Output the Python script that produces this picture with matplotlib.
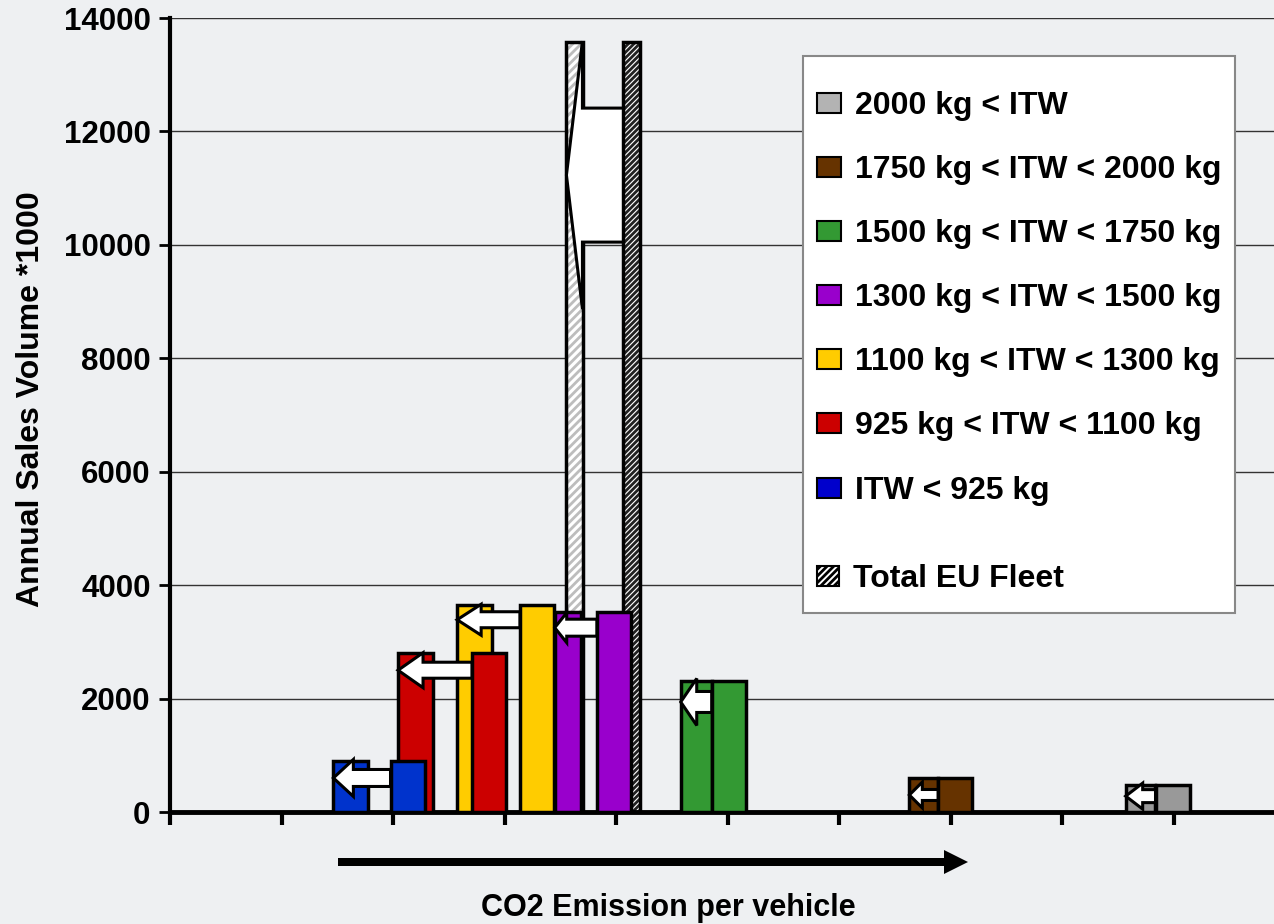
import numpy as np
import matplotlib
matplotlib.use("Agg")
import matplotlib.pyplot as plt
from matplotlib.patches import Polygon, Rectangle

plt.rcParams['font.family'] = ['Liberation Sans', 'DejaVu Sans']
plt.rcParams['font.weight'] = 'bold'
plt.rcParams['hatch.linewidth'] = 2.0

# weight classes, lightest first
classes = ['ITW < 925 kg', '925 kg < ITW < 1100 kg', '1100 kg < ITW < 1300 kg',
           '1300 kg < ITW < 1500 kg', '1500 kg < ITW < 1750 kg',
           '1750 kg < ITW < 2000 kg', '2000 kg < ITW']
colors = ['#0033cc', '#cc0000', '#ffcc00', '#9900cc', '#339933', '#663300', '#999999']
legend_colors = ['#0000cc', '#cc0000', '#ffcc00', '#9900cc', '#339933', '#663300', '#b3b3b3']
sales = [900, 2800, 3650, 3525, 2310, 600, 475]          # annual sales *1000
co2_now = [2.13, 2.86, 3.29, 3.98, 5.01, 7.04, 8.99]     # current emission position
co2_new = [1.62, 2.20, 2.73, 3.57, 4.72, 6.76, 8.70]     # shifted emission position

fleet_sales = 13570
fleet_now = 4.14
fleet_new = 3.63

# bar widths and arrow styling
w_now = 0.305
w_new = [0.31, 0.31, 0.31, 0.24, 0.28, 0.26, 0.26]
w_fleet = 0.15
arrow_y = [600, 2500, 3390, 3250, 1940, 300, 280]
arrow_px = [(17, 37, 20), (16, 35, 25), (16, 31, 24), (17, 30, 12),
            (21, 47, 16), (11, 26, 13), (13, 26, 17)]   # shaft, head, head length
fleet_arrow_y = 11230
fleet_arrow_px = (134, 268, 16)

W, H = 1274, 924
bg = '#eef0f2'
fig = plt.figure(figsize=(W / 100, H / 100), dpi=100, facecolor=bg)
ax = fig.add_axes([170 / W, 1 - 812 / H, 1 - 170 / W, (812 - 18) / H])
ax.set_facecolor('none')
ax.set_xlim(0, 9.9)
ax.set_ylim(0, 14000)

# px -> data scale
sx = 9.9 / (W - 170)
sy = 14000 / (812 - 18)


def fig_xy(px, py):
    return px / W, 1 - py / H


def block_arrow(x_tail, x_tip, y, size):
    shaft, head, hlen = size
    sh, hh, hl = shaft * sy / 2, head * sy / 2, hlen * sx
    verts = [(x_tail, y + sh), (x_tip + hl, y + sh), (x_tip + hl, y + hh), (x_tip, y),
             (x_tip + hl, y - hh), (x_tip + hl, y - sh), (x_tail, y - sh)]
    ax.add_patch(Polygon(verts, closed=True, facecolor='white', edgecolor='black',
                         lw=2.2, joinstyle='miter', zorder=6))


def hatched_bar(x, h, w, hatch, hatch_color):
    ax.bar(x, h, w, color='white', edgecolor=hatch_color, hatch=hatch, lw=0, zorder=2)
    ax.bar(x, h, w, fill=False, edgecolor='black', lw=2.5, zorder=2.1)


# total fleet, before and after
hatched_bar(fleet_new, fleet_sales, w_fleet, '////', '#bdbdbd')
hatched_bar(fleet_now, fleet_sales, w_fleet, '//////', '#222222')

ax.bar(co2_new, sales, w_new, color=colors, edgecolor='black', lw=2.5, zorder=3)
ax.bar(co2_now, sales, w_now, color=colors, edgecolor='black', lw=2.5, zorder=4)

for i in range(len(classes)):
    block_arrow(co2_now[i] - w_now / 2, co2_new[i] - w_new[i] / 2, arrow_y[i], arrow_px[i])
block_arrow(fleet_now - w_fleet / 2, fleet_new - w_fleet / 2, fleet_arrow_y, fleet_arrow_px)

# axes styling
ax.set_yticks(np.arange(0, 14001, 2000))
ax.set_xticks(np.arange(0, 10))
ax.set_xticklabels([])
ax.tick_params(axis='y', labelsize=22.5, length=8, width=2, pad=6)
ax.tick_params(axis='x', length=9, width=3, direction='out')
for s in ['top', 'right']:
    ax.spines[s].set_visible(False)
ax.spines['left'].set_linewidth(3)
ax.spines['bottom'].set_linewidth(3.5)
ax.grid(axis='y', color='#333333', lw=1)
ax.set_axisbelow(True)

fig.text(*fig_xy(31, 399), 'Annual Sales Volume *1000', rotation=90,
         ha='center', va='center', fontsize=23)
fig.text(*fig_xy(668, 908), 'CO2 Emission per vehicle',
         ha='center', va='center', fontsize=22)

# direction arrow under the axis
y0, x0, x1 = 862, 338, 968
arrow = [(x0, y0 - 4), (x1 - 24, y0 - 4), (x1 - 24, y0 - 12), (x1, y0),
         (x1 - 24, y0 + 12), (x1 - 24, y0 + 4), (x0, y0 + 4)]
fig.add_artist(Polygon([fig_xy(*p) for p in arrow], closed=True, facecolor='black',
                       edgecolor='none', transform=fig.transFigure))

# legend box, heaviest class on top
lx0, ly0, lx1, ly1 = 803, 56, 1235, 613
fig.add_artist(Rectangle(fig_xy(lx0, ly1), (lx1 - lx0) / W, (ly1 - ly0) / H,
                         facecolor='white', edgecolor='#888888', lw=1.5,
                         transform=fig.transFigure, zorder=10))
rows = [105, 169, 233, 297, 361, 425, 490]
entries = list(zip(classes[::-1], legend_colors[::-1]))
for ry, (label, c) in zip(rows, entries):
    fig.add_artist(Rectangle(fig_xy(817, ry + 8), 24 / W, 20 / H, facecolor=c,
                             edgecolor='black', lw=1.5, transform=fig.transFigure,
                             zorder=11))
    fig.text(*fig_xy(855, ry + 1), label, ha='left', va='center', fontsize=23, zorder=12)
fig.add_artist(Rectangle(fig_xy(817, 578 + 8), 22 / W, 20 / H, facecolor='white',
                         edgecolor='black', hatch='/////', lw=1.5,
                         transform=fig.transFigure, zorder=11))
fig.text(*fig_xy(853, 579), 'Total EU Fleet', ha='left', va='center', fontsize=23,
         zorder=12)

fig.savefig('out.png', dpi=100, facecolor=bg)
